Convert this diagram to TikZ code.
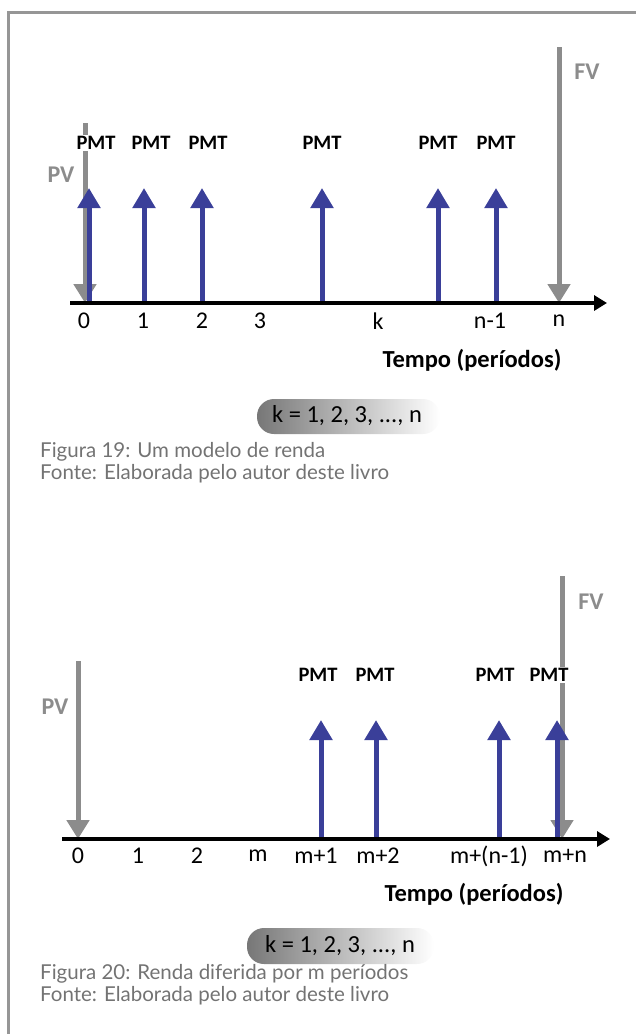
\documentclass[tikz,border=0pt]{standalone}
\usepackage{fontspec}
\setmainfont{Carlito}
\newfontfamily\capfont{Lato}
\usetikzlibrary{arrows.meta, positioning}
\definecolor{pmtblue}{RGB}{58,63,153}
\definecolor{flowgray}{RGB}{140,140,140}
\definecolor{framegray}{RGB}{150,150,150}
\definecolor{capgray}{RGB}{115,115,115}
\begin{document}
\begin{tikzpicture}[x=1pt, y=-1pt,
    axisline/.style={line width=3.5pt, -{Triangle[width=15pt, length=13pt]}},
    pmtarrow/.style={draw=pmtblue, line width=5pt, -{Triangle[width=22pt, length=20pt]}},
    flowarrow/.style={draw=flowgray, line width=5pt, -{Triangle[width=22pt, length=19pt]}},
    pmtlab/.style={fill=white, inner sep=1pt, font=\fontsize{20.5}{22}\selectfont\bfseries},
    flowlab/.style={text=flowgray, font=\fontsize{24}{26}\selectfont\bfseries},
    ticklab/.style={font=\fontsize{24}{26}\selectfont},
    timelab/.style={font=\fontsize{24.5}{26}\selectfont\bfseries},
    rangelab/.style={font=\fontsize{24.5}{26}\selectfont},
    captext/.style={anchor=west, inner sep=0pt, text=capgray, font=\capfont\fontsize{20.5}{22}\selectfont}
]
    \useasboundingbox (0,0) rectangle (636,1034);
    % frame
    \draw[framegray, line width=3pt] (8,1034) -- (8,12) -- (636,12);

    % ---- Figura 19 ----
    \coordinate (axA0) at (70,303);
    \coordinate (axA1) at (607,303);
    \coordinate (pvA0) at (85,123);
    \coordinate (pvA1) at (85,303);
    \coordinate (fvA0) at (559,47);
    \coordinate (fvA1) at (559,303);
    \draw[flowarrow] (pvA0) -- (pvA1);
    \draw[flowarrow] (fvA0) -- (fvA1);
    \foreach \x/\lx [count=\i] in {89/96, 144/151, 202/208, 322/322, 438/438, 496/496} {
        \coordinate (pmtA\i) at (\x,303);
        \coordinate (topA\i) at (\x,188);
        \draw[pmtarrow] (pmtA\i) -- (topA\i);
        \node[pmtlab] (labA\i) at (\lx,143) {PMT};
    }
    \draw[axisline] (axA0) -- (axA1);
    \foreach \x/\t [count=\i] in {84/0, 143/1, 202/2, 260/3, 378/k, 490/n-1, 559/n}
        \node[ticklab] (tickA\i) at (\x,321) {\t};
    \node[flowlab] (pvlabA) at (61,175) {PV};
    \node[flowlab] (fvlabA) at (587,72) {FV};
    \node[timelab] (timeA) at (472,360) {Tempo (períodos)};
    \shade[left color=flowgray!85!black, right color=white, rounded corners=17pt] (257,399) rectangle (440,434);
    \node[rangelab] (rangeA) at (347,416) {k = 1, 2, 3, ..., n};
    \node[captext] (capA) at (40,452) {Figura 19: Um modelo de renda};
    \node[captext] (srcA) at (40,474) {Fonte: Elaborada pelo autor deste livro};

    % ---- Figura 20 ----
    \coordinate (axB0) at (62,839);
    \coordinate (axB1) at (610,839);
    \coordinate (pvB0) at (78,661);
    \coordinate (pvB1) at (78,839);
    \coordinate (fvB0) at (562,576);
    \coordinate (fvB1) at (562,839);
    \draw[flowarrow] (pvB0) -- (pvB1);
    \draw[flowarrow] (fvB0) -- (fvB1);
    \foreach \x/\lx [count=\i] in {321/318, 376/375, 499/495, 557/549} {
        \coordinate (pmtB\i) at (\x,839);
        \coordinate (topB\i) at (\x,720);
        \draw[pmtarrow] (pmtB\i) -- (topB\i);
        \node[pmtlab] (labB\i) at (\lx,675) {PMT};
    }
    \draw[axisline] (axB0) -- (axB1);
    \foreach \x/\t [count=\i] in {78/0, 138/1, 197/2, 258/m, 316/m+1, 378/m+2, 489/m+(n-1), 565/m+n}
        \node[ticklab] (tickB\i) at (\x,856) {\t};
    \node[flowlab] (pvlabB) at (55,707) {PV};
    \node[flowlab] (fvlabB) at (591,602) {FV};
    \node[timelab] (timeB) at (474,894) {Tempo (períodos)};
    \shade[left color=flowgray!85!black, right color=white, rounded corners=17pt] (247,928) rectangle (434,964);
    \node[rangelab] (rangeB) at (340,946) {k = 1, 2, 3, ..., n};
    \node[captext] (capB) at (40,974) {Figura 20: Renda diferida por m períodos};
    \node[captext] (srcB) at (40,996) {Fonte: Elaborada pelo autor deste livro};
\end{tikzpicture}
\end{document}
